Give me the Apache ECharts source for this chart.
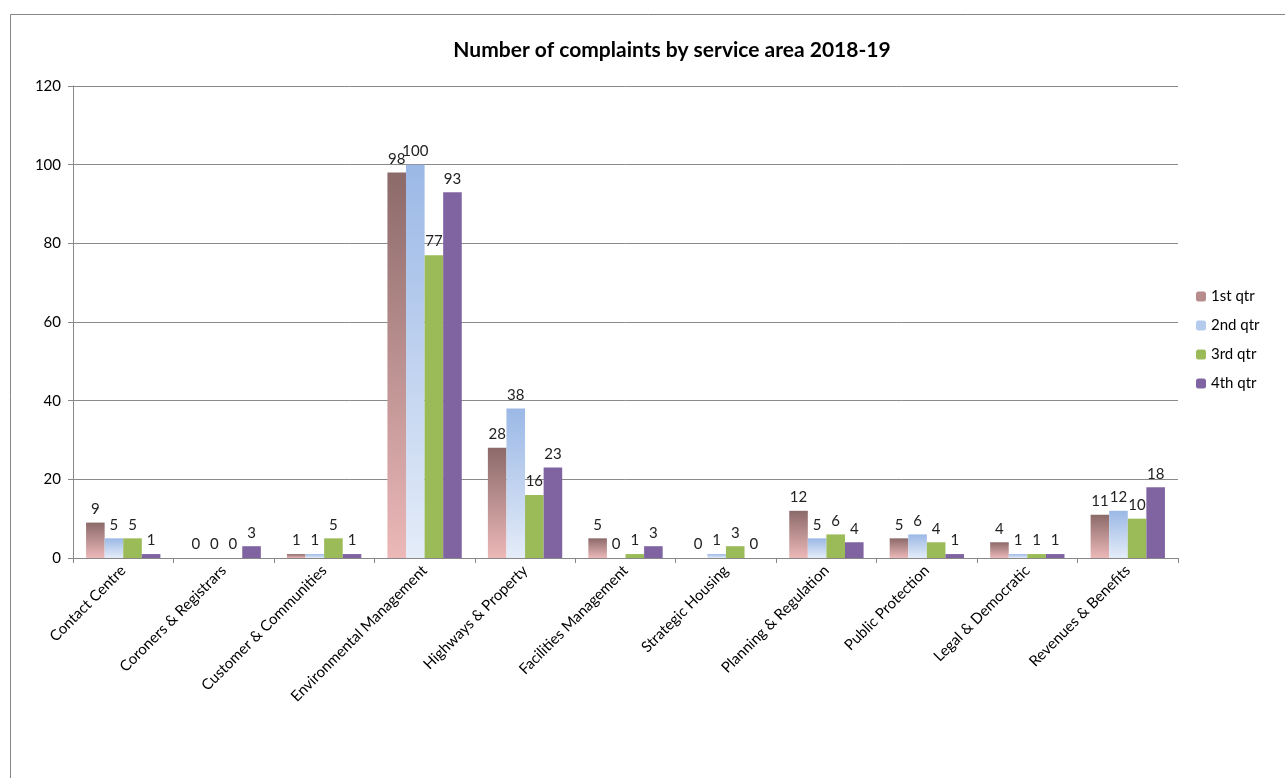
<!DOCTYPE html>
<html><head><meta charset="utf-8">
<script src="https://cdn.jsdelivr.net/npm/echarts@6/dist/echarts.min.js"></script>
<style>html,body{margin:0;padding:0;background:#fff}#c{width:1285px;height:778px}</style>
</head><body><div id="c"></div>
<script>
const categories = ['Contact Centre','Coroners & Registrars','Customer & Communities','Environmental Management','Highways & Property','Facilities Management','Strategic Housing','Planning & Regulation','Public Protection','Legal & Democratic','Revenues & Benefits'];
const q1 = [9,0,1,98,28,5,0,12,5,4,11];
const q2 = [5,0,1,100,38,0,1,5,6,1,12];
const q3 = [5,0,5,77,16,1,3,6,4,1,10];
const q4 = [1,3,1,93,23,3,0,4,1,1,18];
const seriesNames = ['1st qtr','2nd qtr','3rd qtr','4th qtr'];
const yTicks = [0,20,40,60,80,100,120];

const font = 'Lato, "Open Sans", sans-serif';
const grad = (top, bottom) => new echarts.graphic.LinearGradient(0,0,0,1,[{offset:0,color:top},{offset:1,color:bottom}]);
const colors = [grad('#8c6a6a','#ecb8b8'), grad('#9bb8e6','#e4ecf8'), '#9bbb59', '#8064a2'];
const legendColors = ['#b88c8c','#b4cbee','#9bbb59','#8064a2'];
const data = [q1,q2,q3,q4];

const chart = echarts.init(document.getElementById('c'));
chart.setOption({
  animation:false,
  backgroundColor:'#fff',
  graphic:[{type:'rect',shape:{x:10.5,y:14.5,width:1300,height:800},style:{fill:'none',stroke:'#868686',lineWidth:1},z:-1}],
  title:{text:'Number of complaints by service area 2018-19',left:667,top:35,textAlign:'center',
    textStyle:{fontFamily:font,fontSize:21,fontWeight:'bold',color:'#000'}},
  legend:{orient:'vertical',left:1191,top:284,itemGap:14,itemWidth:10,itemHeight:10,
    textStyle:{fontFamily:font,fontSize:15,color:'#000'},
    data:seriesNames.map((n,i)=>({name:n,itemStyle:{color:legendColors[i]}}))},
  grid:{left:73,right:107,top:86,bottom:220,containLabel:false},
  xAxis:{type:'category',data:categories,
    axisLine:{lineStyle:{color:'#888'}},
    axisTick:{show:true,alignWithLabel:false,length:5,lineStyle:{color:'#888'}},
    axisLabel:{rotate:45,interval:0,fontFamily:font,fontSize:15,color:'#000',margin:10}},
  yAxis:{type:'value',min:0,max:120,interval:20,
    axisLine:{show:true,lineStyle:{color:'#888'}},
    axisTick:{show:true,length:5,lineStyle:{color:'#888'}},
    splitLine:{lineStyle:{color:'#8a8a8a'}},
    axisLabel:{fontFamily:font,fontSize:15,color:'#000',margin:12,
      formatter:v=>yTicks.includes(v)?String(v):''}},
  series:seriesNames.map((n,i)=>({name:n,type:'bar',data:data[i],barGap:'0%',barCategoryGap:'26%',
    itemStyle:{color:colors[i]},
    label:{show:true,position:'top',distance:6,fontFamily:font,fontSize:15,color:'#222'}}))
});
</script></body></html>
